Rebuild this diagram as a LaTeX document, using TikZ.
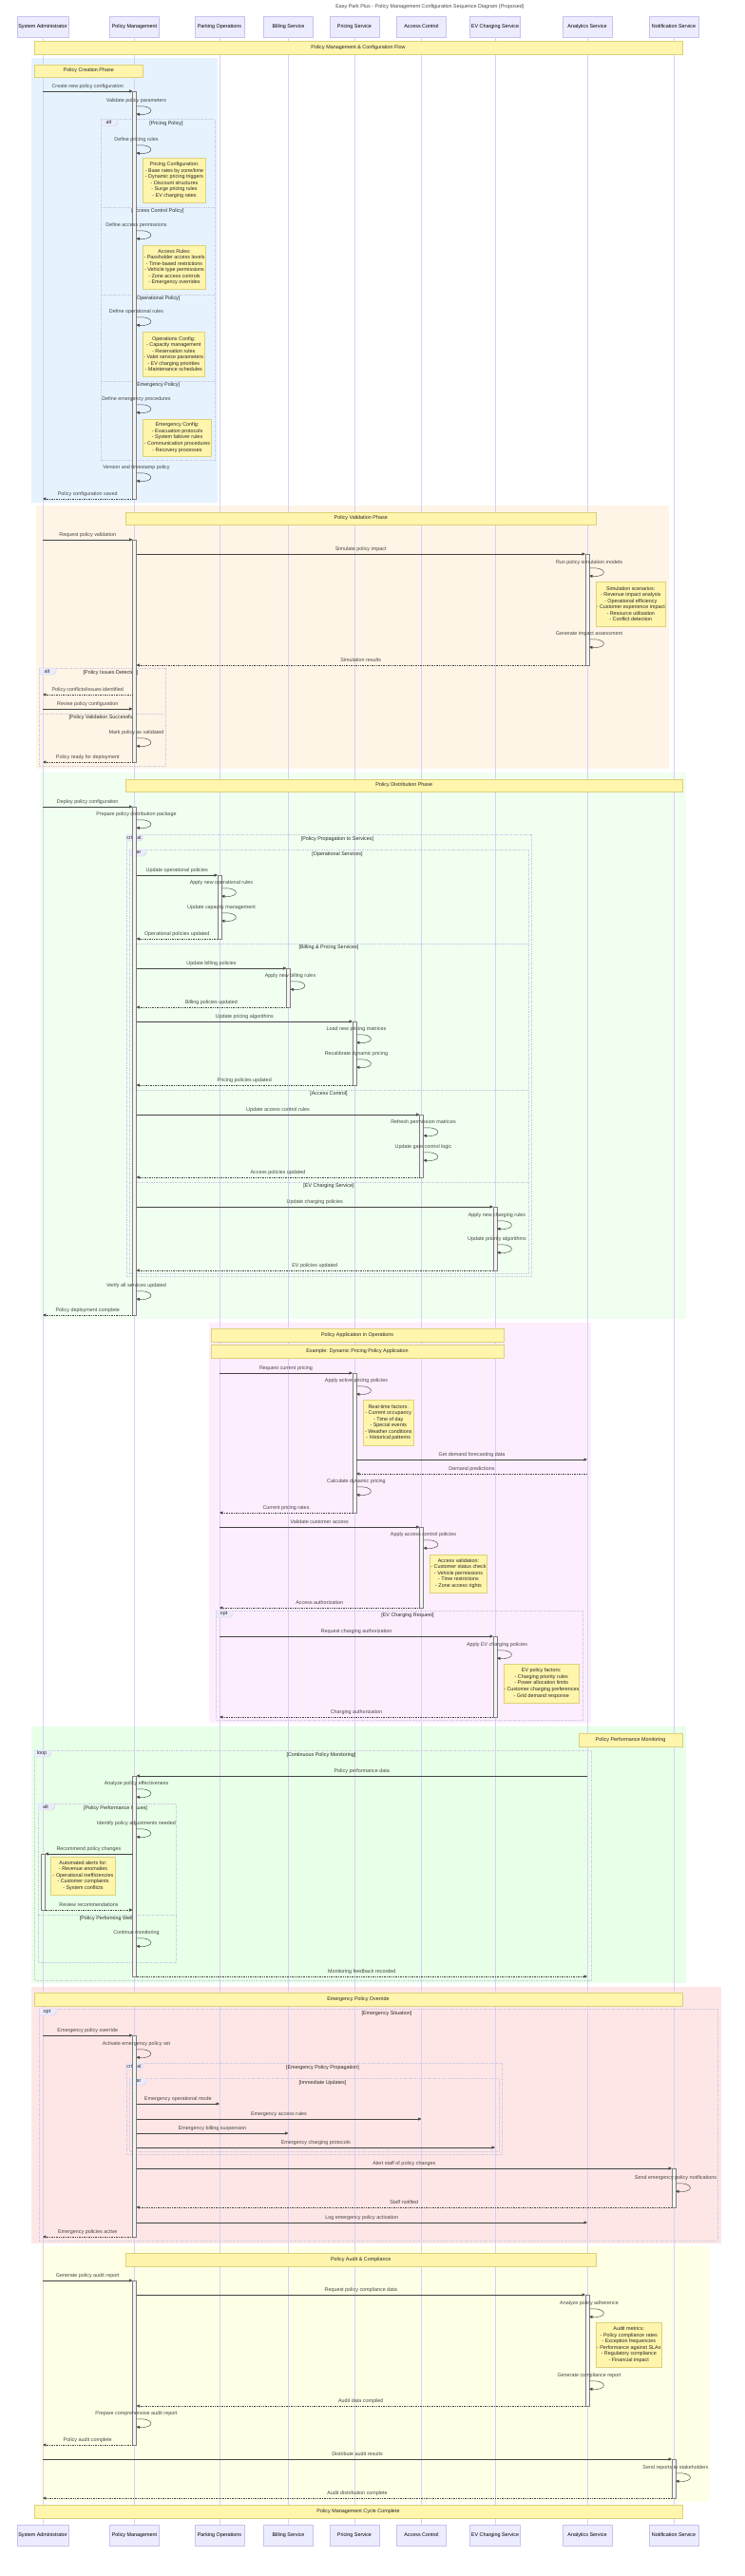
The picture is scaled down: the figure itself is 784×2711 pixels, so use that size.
\documentclass[tikz,border=0pt]{standalone}
\usepackage{fontspec}
\setmainfont{Liberation Sans}
\usetikzlibrary{arrows.meta,calc,positioning}

\definecolor{actfill}{HTML}{ECECFF}
\definecolor{actdraw}{HTML}{C9C2F0}
\definecolor{lifeln}{HTML}{D9D0F6}
\definecolor{notefill}{HTML}{FFF5AD}
\definecolor{notedraw}{HTML}{DDD27A}
\definecolor{msgcol}{HTML}{444444}
\definecolor{framecol}{HTML}{C9C9E2}
\definecolor{bgblue}{HTML}{E6F3FF}
\definecolor{bgorange}{HTML}{FFF5E6}
\definecolor{bggreen}{HTML}{F0FFF0}
\definecolor{bgpink}{HTML}{FDEEFD}
\definecolor{bggreenb}{HTML}{E8FFE8}
\definecolor{bgred}{HTML}{FFE6E6}
\definecolor{bgyellow}{HTML}{FFFFE6}

% lifeline x positions
\def\xsa{45}\def\xpm{141.5}\def\xpo{231}\def\xbs{303.5}\def\xps{373}
\def\xac{443.5}\def\xev{521}\def\xan{618}\def\xns{709}

\newcounter{msg}
\newcommand\sendmsg[5][msgline]{%
  \stepcounter{msg}%
  \coordinate (m\themsg-a) at (#3,#2);
  \coordinate (m\themsg-b) at (#4,#2);
  \draw[#1] (m\themsg-a) -- (m\themsg-b);
  \node[msgtext,yshift=5.3pt] (m\themsg-t) at ($(m\themsg-a)!.5!(m\themsg-b)$) {#5};}
\newcommand\selfcall[3]{%
  \stepcounter{msg}%
  \coordinate (m\themsg-a) at (#1+2,#2);
  \coordinate (m\themsg-b) at (#1+2,#2+8);
  \draw[msgline] (m\themsg-a) .. controls +(20,-2) and +(20,2) .. (m\themsg-b);
  \node[msgtext] (m\themsg-t) at (#1+2,#2-6) {#3};}
\newcommand\activebar[3]{\draw[activation] (#1-2,#2) rectangle (#1+2,#3);}
\newcommand\notebox[6]{%
  \draw[notebg] (#2,#3) rectangle (#4,#5);
  \node[notetext] (#1) at ($(#2,#3)!.5!(#4,#5)$) {#6};}
\newcommand\seqfrag[8]{%
  \draw[fragframe] (#2,#3) rectangle (#4,#5);
  \draw[fragtab] (#2,#3) -- ++(17.5,0) -- ++(0,4.5) -- ++(-3,2.5) -- ++(-14.5,0) -- cycle;
  \node[tabtext] (#1-tag) at (#2+8,#3+3.5) {#6};
  \node[condtext] (#1-cond) at (#7,#3+4.7) {#8};}
\newcommand\fragsep[6]{%
  \draw[fragframe] (#2,#4) -- (#3,#4);
  \node[condtext] (#1) at (#5,#4+4.5) {#6};}

\begin{document}
\begin{tikzpicture}[x=1pt,y=-1pt,
    every node/.style={font=\fontsize{5.4}{6.55}\selectfont},
    actor/.style={draw=actdraw,fill=actfill,line width=0.4pt,minimum width=52pt,
      minimum height=22pt,inner sep=1.5pt,text=black},
    lifeline/.style={draw=lifeln,line width=0.5pt},
    msgline/.style={draw=msgcol,line width=0.45pt,-{Triangle[length=3.4pt,width=3pt]}},
    reply/.style={msgline,dash pattern=on 0.9pt off 0.8pt},
    msgtext/.style={text=msgcol,inner sep=0pt},
    activation/.style={draw=black!50,fill=black!4,line width=0.4pt},
    notebg/.style={draw=notedraw,fill=notefill,line width=0.5pt},
    notetext/.style={align=center,text=black!85,inner sep=0pt},
    fragframe/.style={draw=framecol,line width=0.5pt,dash pattern=on 1.5pt off 1pt},
    fragtab/.style={draw=framecol,fill=actfill,line width=0.4pt},
    tabtext/.style={text=black!85,inner sep=0pt},
    condtext/.style={text=black!85,inner sep=0pt}]
  \useasboundingbox (0,0) rectangle (784,2711);

  % highlighted phases
  \fill[bgblue] (33,61) rectangle (229,529);
  \fill[bgorange] (38,532) rectangle (704,809);
  \fill[bggreen] (41.5,813) rectangle (721.5,1388);
  \fill[bgpink] (219.5,1392) rectangle (621.5,1813);
  \fill[bggreenb] (33,1817) rectangle (721.5,2087);
  \fill[bgred] (33,2091) rectangle (758.5,2361);
  \fill[bgyellow] (41.5,2364) rectangle (746,2633);

  \node[msgtext] (title) at (452.5,7) {Easy Park Plus - Policy Management Configuration Sequence Diagram (Proposed)};

  \foreach \id/\x/\label in {sa/45/System Administrator, pm/141.5/Policy Management,
      po/231/Parking Operations, bs/303.5/Billing Service, ps/373/Pricing Service,
      ac/443.5/Access Control, ev/521/EV Charging Service, an/618/Analytics Service,
      ns/709/Notification Service}{
    \node[actor] (\id-top) at (\x,28) {\label};
    \node[actor] (\id-bot) at (\x,2668) {\label};
    \draw[lifeline] (\id-top) -- (\id-bot);
  }

  % fragments
  \seqfrag{altcfg}{106.5}{125.3}{226}{484}{alt}{175}{[Pricing Policy]}
  \fragsep{sepa}{106.5}{226}{218}{166}{[Access Control Policy]}
  \fragsep{sepb}{106.5}{226}{310}{166}{[Operational Policy]}
  \fragsep{sepc}{106.5}{226}{401}{166}{[Emergency Policy]}
  \seqfrag{altval}{41.5}{703}{174.5}{806}{alt}{116.5}{[Policy Issues Detected]}
  \fragsep{sepd}{41.5}{174.5}{751}{107.5}{[Policy Validation Successful]}
  \seqfrag{critdist}{133}{878}{559.5}{1343}{critical}{355}{[Policy Propagation to Services]}
  \seqfrag{pardist}{136.5}{894}{556}{1340}{par}{355}{[Operational Services]}
  \fragsep{sepe}{136.5}{556}{993}{346}{[Billing \& Pricing Services]}
  \fragsep{sepf}{136.5}{556}{1147}{346}{[Access Control]}
  \fragsep{sepg}{136.5}{556}{1244}{346}{[EV Charging Service]}
  \seqfrag{optev}{227.5}{1695}{613}{1810}{opt}{429}{[EV Charging Request]}
  \seqfrag{loopmon}{36}{1842}{622}{2084}{loop}{338}{[Continuous Policy Monitoring]}
  \seqfrag{altmon}{40}{1898}{185.5}{2065}{alt}{121.5}{[Policy Performance Issues]}
  \fragsep{seph}{40}{185.5}{2015}{112.5}{[Policy Performing Well]}
  \seqfrag{optemg}{41.5}{2114}{755}{2358}{opt}{407}{[Emergency Situation]}
  \seqfrag{critemg}{133}{2171}{528.5}{2267}{critical}{339.5}{[Emergency Policy Propagation]}
  \seqfrag{paremg}{136.5}{2187}{525}{2264}{par}{339.5}{[Immediate Updates]}

  % activations
  \activebar{\xpm}{96}{525}
  \activebar{\xpm}{568}{802}
  \activebar{\xpm}{849}{1384}
  \activebar{\xpm}{1869}{2080}
  \activebar{\xpm}{2142}{2354}
  \activebar{\xpm}{2400}{2573}
  \activebar{\xan}{583}{700}
  \activebar{\xan}{2415}{2532}
  \activebar{\xpo}{921}{988}
  \activebar{\xbs}{1019}{1060}
  \activebar{\xps}{1075}{1142}
  \activebar{\xps}{1445}{1592}
  \activebar{\xac}{1173}{1239}
  \activebar{\xac}{1607}{1692}
  \activebar{\xev}{1270}{1337}
  \activebar{\xev}{1722}{1807}
  \activebar{\xsa}{1951}{2010}
  \activebar{\xns}{2282}{2323}
  \activebar{\xns}{2588}{2629}

  % notes
  \notebox{nflow}{36}{43}{718}{57}{Policy Management \& Configuration Flow}
  \notebox{ncreate}{36}{68}{150.5}{81}{Policy Creation Phase}
  \notebox{npricing}{150.5}{166}{216.5}{213}{Pricing Configuration:\\- Base rates by zone/time\\- Dynamic pricing triggers\\- Discount structures\\- Surge pricing rules\\- EV charging rates}
  \notebox{naccess}{150.5}{258}{216.5}{304}{Access Rules:\\- Passholder access levels\\- Time-based restrictions\\- Vehicle type permissions\\- Zone access controls\\- Emergency overrides}
  \notebox{nops}{150.5}{349}{215}{396}{Operations Config:\\- Capacity management\\- Reservation rules\\- Valet service parameters\\- EV charging priorities\\- Maintenance schedules}
  \notebox{nemg}{150.5}{441}{222.5}{480}{Emergency Config:\\- Evacuation protocols\\- System failover rules\\- Communication procedures\\- Recovery processes}
  \notebox{nvalid}{132.5}{539}{627}{552}{Policy Validation Phase}
  \notebox{nsim}{627}{612}{700.5}{659}{Simulation scenarios:\\- Revenue impact analysis\\- Operational efficiency\\- Customer experience impact\\- Resource utilization\\- Conflict detection}
  \notebox{ndist}{132.5}{820}{718}{833}{Policy Distribution Phase}
  \notebox{napply}{222}{1398}{530}{1412}{Policy Application in Operations}
  \notebox{nexample}{222}{1415}{530}{1429}{Example: Dynamic Pricing Policy Application}
  \notebox{nfactors}{382}{1473}{435.5}{1521}{Real-time factors:\\- Current occupancy\\- Time of day\\- Special events\\- Weather conditions\\- Historical patterns}
  \notebox{naccval}{452.5}{1636}{512.5}{1676}{Access validation:\\- Customer status check\\- Vehicle permissions\\- Time restrictions\\- Zone access rights}
  \notebox{nevf}{530}{1751}{609.5}{1792}{EV policy factors:\\- Charging priority rules\\- Power allocation limits\\- Customer charging preferences\\- Grid demand response}
  \notebox{nperf}{609}{1824}{718}{1838}{Policy Performance Monitoring}
  \notebox{nalerts}{53.5}{1954}{121.5}{1994}{Automated alerts for:\\- Revenue anomalies\\- Operational inefficiencies\\- Customer complaints\\- System conflicts}
  \notebox{nemgov}{36}{2097}{718}{2111}{Emergency Policy Override}
  \notebox{naudit}{132.5}{2371}{627}{2385}{Policy Audit \& Compliance}
  \notebox{nmetrics}{627}{2444}{696.5}{2491}{Audit metrics:\\- Policy compliance rates\\- Exception frequencies\\- Performance against SLAs\\- Regulatory compliance\\- Financial impact}
  \notebox{ndone}{36}{2636}{718}{2650}{Policy Management Cycle Complete}

  % policy creation
  \sendmsg{96}{\xsa}{139.5}{Create new policy configuration}
  \selfcall{\xpm}{112}{Validate policy parameters}
  \selfcall{\xpm}{153}{Define pricing rules}
  \selfcall{\xpm}{243}{Define access permissions}
  \selfcall{\xpm}{334}{Define operational rules}
  \selfcall{\xpm}{426}{Define emergency procedures}
  \selfcall{\xpm}{498}{Version and timestamp policy}
  \sendmsg[reply]{525}{139.5}{\xsa}{Policy configuration saved}

  % validation
  \sendmsg{568}{\xsa}{139.5}{Request policy validation}
  \sendmsg{583}{143.5}{616}{Simulate policy impact}
  \selfcall{\xan}{598}{Run policy simulation models}
  \selfcall{\xan}{673}{Generate impact assessment}
  \sendmsg[reply]{700}{616}{143.5}{Simulation results}
  \sendmsg[reply]{731}{139.5}{\xsa}{Policy conflicts/issues identified}
  \sendmsg{746}{\xsa}{139.5}{Revise policy configuration}
  \selfcall{\xpm}{777}{Mark policy as validated}
  \sendmsg[reply]{802}{139.5}{\xsa}{Policy ready for deployment}

  % distribution
  \sendmsg{849}{\xsa}{139.5}{Deploy policy configuration}
  \selfcall{\xpm}{863}{Prepare policy distribution package}
  \sendmsg{921}{143.5}{229}{Update operational policies}
  \selfcall{\xpo}{935}{Apply new operational rules}
  \selfcall{\xpo}{961}{Update capacity management}
  \sendmsg[reply]{988}{229}{143.5}{Operational policies updated}
  \sendmsg{1019}{143.5}{301.5}{Update billing policies}
  \selfcall{\xbs}{1033}{Apply new billing rules}
  \sendmsg[reply]{1060}{301.5}{143.5}{Billing policies updated}
  \sendmsg{1075}{143.5}{371}{Update pricing algorithms}
  \selfcall{\xps}{1089}{Load new pricing matrices}
  \selfcall{\xps}{1115}{Recalibrate dynamic pricing}
  \sendmsg[reply]{1142}{371}{143.5}{Pricing policies updated}
  \sendmsg{1173}{143.5}{441.5}{Update access control rules}
  \selfcall{\xac}{1187}{Refresh permission matrices}
  \selfcall{\xac}{1213}{Update gate control logic}
  \sendmsg[reply]{1239}{441.5}{143.5}{Access policies updated}
  \sendmsg{1270}{143.5}{519}{Update charging policies}
  \selfcall{\xev}{1285}{Apply new charging rules}
  \selfcall{\xev}{1310}{Update priority algorithms}
  \sendmsg[reply]{1337}{519}{143.5}{EV policies updated}
  \selfcall{\xpm}{1359}{Verify all services updated}
  \sendmsg[reply]{1384}{139.5}{\xsa}{Policy deployment complete}

  % application in operations
  \sendmsg{1445}{\xpo}{371}{Request current pricing}
  \selfcall{\xps}{1459}{Apply active pricing policies}
  \sendmsg{1536}{375}{\xan}{Get demand forecasting data}
  \sendmsg[reply]{1551}{\xan}{375}{Demand predictions}
  \selfcall{\xps}{1565}{Calculate dynamic pricing}
  \sendmsg[reply]{1592}{371}{\xpo}{Current pricing rates}
  \sendmsg{1607}{\xpo}{441.5}{Validate customer access}
  \selfcall{\xac}{1621}{Apply access control policies}
  \sendmsg[reply]{1692}{441.5}{\xpo}{Access authorization}
  \sendmsg{1722}{\xpo}{519}{Request charging authorization}
  \selfcall{\xev}{1737}{Apply EV charging policies}
  \sendmsg[reply]{1807}{519}{\xpo}{Charging authorization}

  % monitoring
  \sendmsg{1869}{\xan}{143.5}{Policy performance data}
  \selfcall{\xpm}{1883}{Analyze policy effectiveness}
  \selfcall{\xpm}{1925}{Identify policy adjustments needed}
  \sendmsg{1951}{139.5}{47.5}{Recommend policy changes}
  \sendmsg[reply]{2010}{47.5}{139.5}{Review recommendations}
  \selfcall{\xpm}{2040}{Continue monitoring}
  \sendmsg[reply]{2080}{143.5}{\xan}{Monitoring feedback recorded}

  % emergency override
  \sendmsg{2142}{\xsa}{139.5}{Emergency policy override}
  \selfcall{\xpm}{2157}{Activate emergency policy set}
  \sendmsg{2214}{143.5}{\xpo}{Emergency operational mode}
  \sendmsg{2230}{143.5}{\xac}{Emergency access rules}
  \sendmsg{2245}{143.5}{\xbs}{Emergency billing suspension}
  \sendmsg{2260}{143.5}{\xev}{Emergency charging protocols}
  \sendmsg{2282}{143.5}{707}{Alert staff of policy changes}
  \selfcall{\xns}{2298}{Send emergency policy notifications}
  \sendmsg[reply]{2323}{707}{143.5}{Staff notified}
  \sendmsg{2339}{143.5}{\xan}{Log emergency policy activation}
  \sendmsg[reply]{2354}{139.5}{\xsa}{Emergency policies active}

  % audit
  \sendmsg{2400}{\xsa}{139.5}{Generate policy audit report}
  \sendmsg{2415}{143.5}{616}{Request policy compliance data}
  \selfcall{\xan}{2430}{Analyze policy adherence}
  \selfcall{\xan}{2506}{Generate compliance report}
  \sendmsg[reply]{2532}{616}{143.5}{Audit data compiled}
  \selfcall{\xpm}{2546}{Prepare comprehensive audit report}
  \sendmsg[reply]{2573}{139.5}{\xsa}{Policy audit complete}
  \sendmsg{2588}{\xsa}{707}{Distribute audit results}
  \selfcall{\xns}{2603}{Send reports to stakeholders}
  \sendmsg[reply]{2629}{707}{\xsa}{Audit distribution complete}
\end{tikzpicture}
\end{document}
